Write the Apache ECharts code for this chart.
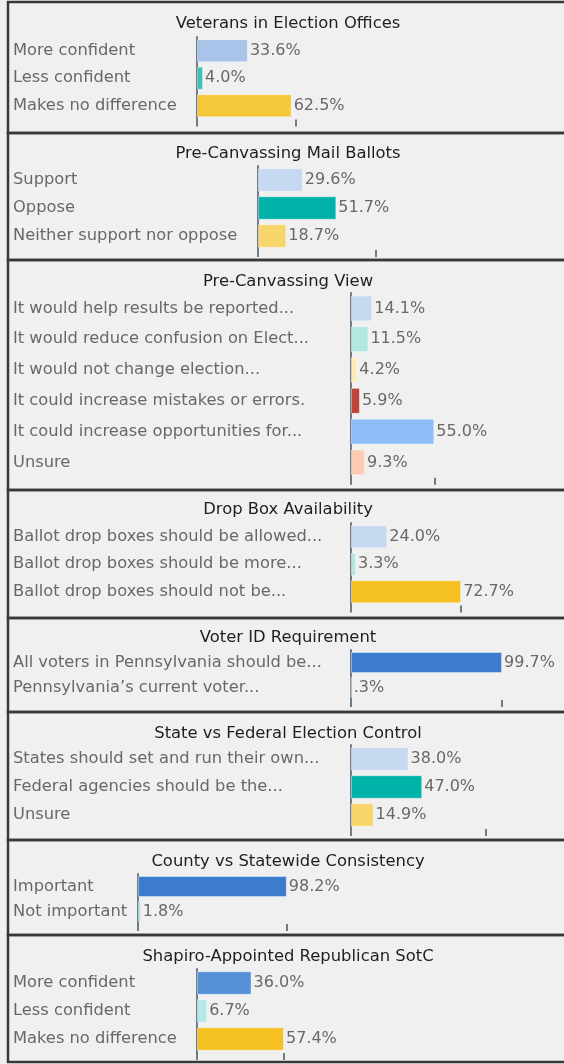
<!DOCTYPE html>
<html>
<head>
<meta charset="utf-8">
<script src="https://cdn.jsdelivr.net/npm/echarts@6/dist/echarts.min.js"></script>
<style>
html,body{margin:0;padding:0;background:#f0f0f0;}
#chart{width:564px;height:1064px;}
</style>
</head>
<body>
<div id="chart"></div>
<script>
// ---- DATA ----
const titles = [
  'Veterans in Election Offices',
  'Pre-Canvassing Mail Ballots',
  'Pre-Canvassing View',
  'Drop Box Availability',
  'Voter ID Requirement',
  'State vs Federal Election Control',
  'County vs Statewide Consistency',
  'Shapiro-Appointed Republican SotC'
];
const cats1 = ['More confident', 'Less confident', 'Makes no difference'];
const vals1 = [33.6, 4.0, 62.5];
const cats2 = ['Support', 'Oppose', 'Neither support nor oppose'];
const vals2 = [29.6, 51.7, 18.7];
const cats3 = ['It would help results be reported...', 'It would reduce confusion on Elect...', 'It would not change election...', 'It could increase mistakes or errors.', 'It could increase opportunities for...', 'Unsure'];
const vals3 = [14.1, 11.5, 4.2, 5.9, 55.0, 9.3];
const cats4 = ['Ballot drop boxes should be allowed...', 'Ballot drop boxes should be more...', 'Ballot drop boxes should not be...'];
const vals4 = [24.0, 3.3, 72.7];
const cats5 = ['All voters in Pennsylvania should be...', 'Pennsylvania\u2019s current voter...'];
const vals5 = [99.7, 0.3];
const cats6 = ['States should set and run their own...', 'Federal agencies should be the...', 'Unsure'];
const vals6 = [38.0, 47.0, 14.9];
const cats7 = ['Important', 'Not important'];
const vals7 = [98.2, 1.8];
const cats8 = ['More confident', 'Less confident', 'Makes no difference'];
const vals8 = [36.0, 6.7, 57.4];
// value at which each panel's single axis tick sits
const tickValues = [65.5, 78, 55, 72.7, 99.7, 89, 98.2, 57.4];

// ---- STYLES ----
const colors1 = ['#a9c4e8', '#3cc2b4', '#f5c83c'];
const colors2 = ['#c6d9f1', '#00b2a9', '#f7d56a'];
const colors3 = ['#c6d9f1', '#b2e8e0', '#fdecb8', '#c0433a', '#8fbdf8', '#fdcbb4'];
const colors4 = ['#c6d9f1', '#b2e8e0', '#f5c122'];
const colors5 = ['#3d7bcc', '#b2e8e0'];
const colors6 = ['#c6d9f1', '#00b2a7', '#f7d56a'];
const colors7 = ['#3d7bcc', '#9fdcd6'];
const colors8 = ['#5590d6', '#b4e9e6', '#f5c122'];

// ---- LAYOUT ----
const panelEdges = [2, 133, 260, 490, 618, 712, 840, 935, 1062];
const titleY = [24, 154, 282, 510, 638, 734, 862, 957];
const axisX = [197, 258, 351, 351, 351, 351, 138, 197];
const axisTop = [37, 166, 293, 523, 650, 745, 874, 969];
const bandH = [27.5, 28, 30.8, 27.5, 25, 28, 25, 28];
const pxPerHundred = 151.5;
const FONT = 'DejaVu Sans';

const panels = [
  [cats1, vals1, colors1], [cats2, vals2, colors2], [cats3, vals3, colors3], [cats4, vals4, colors4],
  [cats5, vals5, colors5], [cats6, vals6, colors6], [cats7, vals7, colors7], [cats8, vals8, colors8]
];

const axisColor = '#6e7b88';
const textColor = '#6a6866';
const grid = [], xAxis = [], yAxis = [], series = [], title = [], graphic = [];

panels.forEach(function (p, i) {
  const cats = p[0], vals = p[1], cols = p[2];
  grid.push({
    left: axisX[i], top: axisTop[i], width: pxPerHundred, height: cats.length * bandH[i],
    containLabel: false, outerBoundsMode: 'none'
  });
  xAxis.push({
    type: 'value', gridIndex: i, min: 0, max: 100,
    axisLine: { show: false },
    splitLine: { show: false },
    axisLabel: { show: false },
    axisTick: { show: true, length: 7, customValues: [0, tickValues[i]], lineStyle: { color: axisColor, width: 2 } }
  });
  yAxis.push({
    type: 'category', gridIndex: i, inverse: true, data: cats,
    axisLine: { show: true, lineStyle: { color: axisColor, width: 2 } },
    axisTick: { show: false },
    axisLabel: {
      align: 'left', margin: axisX[i] - 13, color: textColor,
      fontFamily: FONT, fontSize: 16.3
    }
  });
  series.push({
    type: 'bar', xAxisIndex: i, yAxisIndex: i,
    barCategoryGap: '16%',
    data: vals.map(function (v, k) {
      return { value: v, itemStyle: { color: cols[k] } };
    }),
    itemStyle: { borderColor: 'rgba(255,255,255,0.4)', borderWidth: 1 },
    label: {
      show: true, position: 'right', distance: 2, color: textColor,
      fontFamily: FONT, fontSize: 16,
      formatter: function (d) { return d.value.toFixed(1).replace(/^0\./, '.') + '%'; }
    },
    silent: true
  });
  title.push({
    text: titles[i], left: 288, top: titleY[i] - 8, textAlign: 'center', padding: 0,
    textStyle: { fontFamily: FONT, fontSize: 16.4, fontWeight: 'normal', color: '#1e1e1e' }
  });
});

for (let i = 0; i < panelEdges.length - 1; i++) {
  graphic.push({
    type: 'rect', silent: true, z: 100,
    shape: { x: 8, y: panelEdges[i], width: 600, height: panelEdges[i + 1] - panelEdges[i] },
    style: { fill: 'none', stroke: '#383838', lineWidth: 2.5 }
  });
}

const chart = echarts.init(document.getElementById('chart'), null, { renderer: 'canvas' });
chart.setOption({
  backgroundColor: '#f0f0f0',
  animation: false,
  title: title,
  grid: grid,
  xAxis: xAxis,
  yAxis: yAxis,
  series: series,
  graphic: graphic
});
</script>
</body>
</html>
